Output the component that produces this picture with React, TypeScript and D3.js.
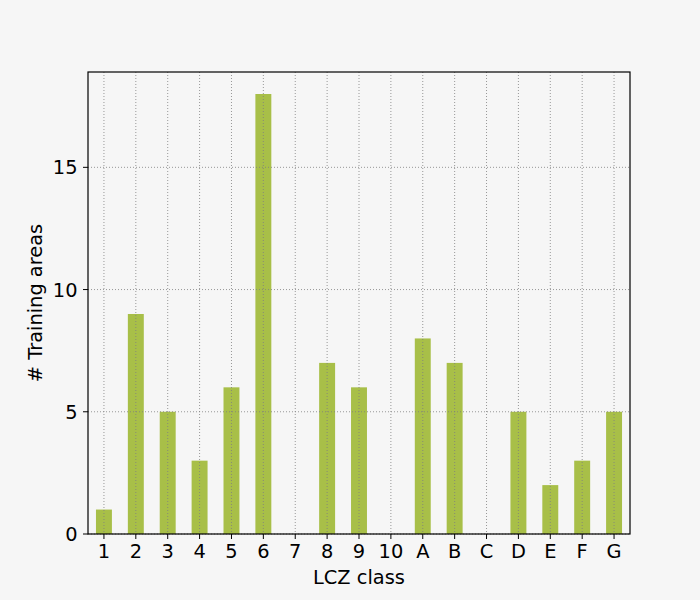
import React from 'react';
import * as d3 from 'd3';

const categories = ['1', '2', '3', '4', '5', '6', '7', '8', '9', '10', 'A', 'B', 'C', 'D', 'E', 'F', 'G'];
const counts = [1, 9, 5, 3, 6, 18, 0, 7, 6, 0, 8, 7, 0, 5, 2, 3, 5];
const yTicks = [0, 5, 10, 15];

const W = 700;
const H = 600;
const margin = {top: 72, right: 70, bottom: 66, left: 88};
const FONT = 'DejaVu Sans, sans-serif';
const FS = 19.4;

const App: React.FC = () => {
    const innerW = W - margin.left - margin.right;
    const innerH = H - margin.top - margin.bottom;

    // band scale, bars take half the band like pandas' default
    const x = d3.scaleBand<string>().domain(categories).range([0, innerW]).paddingInner(0).paddingOuter(0);
    const y = d3.scaleLinear().domain([0, d3.max(counts)! * 1.05]).range([innerH, 0]);
    const barW = x.bandwidth() * 0.5;
    const cx = (c: string) => (x(c) || 0) + x.bandwidth() / 2;

    return (
        <div style={{position: 'absolute', left: 0, top: 0, width: W, height: H, background: '#f6f6f6'}}>
            <svg width={W} height={H} style={{display: 'block'}}>
                <rect width={W} height={H} fill="#f6f6f6"/>
                <g transform={`translate(${margin.left},${margin.top})`}>
                    {counts.map((v, i) => (
                        <rect key={categories[i]}
                              x={cx(categories[i]) - barW / 2}
                              y={y(v)}
                              width={barW}
                              height={innerH - y(v)}
                              fill="#a8bf48"/>
                    ))}
                    {/* grid sits on top of the bars */}
                    {categories.map(c => (
                        <line key={'gx' + c} x1={cx(c)} x2={cx(c)} y1={0} y2={innerH}
                              stroke="#808080" strokeOpacity={0.8} strokeWidth={1} strokeDasharray="1,2"/>
                    ))}
                    {yTicks.map(t => (
                        <line key={'gy' + t} x1={0} x2={innerW} y1={y(t)} y2={y(t)}
                              stroke="#808080" strokeOpacity={0.8} strokeWidth={1} strokeDasharray="1,2"/>
                    ))}
                    <rect x={0} y={0} width={innerW} height={innerH} fill="none" stroke="#000" strokeWidth={1.2}/>
                    {categories.map(c => (
                        <g key={'tx' + c} transform={`translate(${cx(c)},${innerH})`}>
                            <line y1={0} y2={5} stroke="#000" strokeWidth={1}/>
                            <text y={23.5} textAnchor="middle" fontFamily={FONT} fontSize={FS} fill="#000">{c}</text>
                        </g>
                    ))}
                    {yTicks.map(t => (
                        <g key={'ty' + t} transform={`translate(0,${y(t)})`}>
                            <line x1={-5} x2={0} stroke="#000" strokeWidth={1}/>
                            <text x={-10.5} dy="0.36em" textAnchor="end" fontFamily={FONT} fontSize={FS} fill="#000">{t}</text>
                        </g>
                    ))}
                    <text x={innerW / 2} y={innerH + 49.5} textAnchor="middle" fontFamily={FONT} fontSize={FS} fill="#000">LCZ class</text>
                    <text transform={`translate(${-46.5},${innerH / 2}) rotate(-90)`} textAnchor="middle" fontFamily={FONT} fontSize={FS} fill="#000"># Training areas</text>
                </g>
            </svg>
        </div>
    );
};

export default App;
